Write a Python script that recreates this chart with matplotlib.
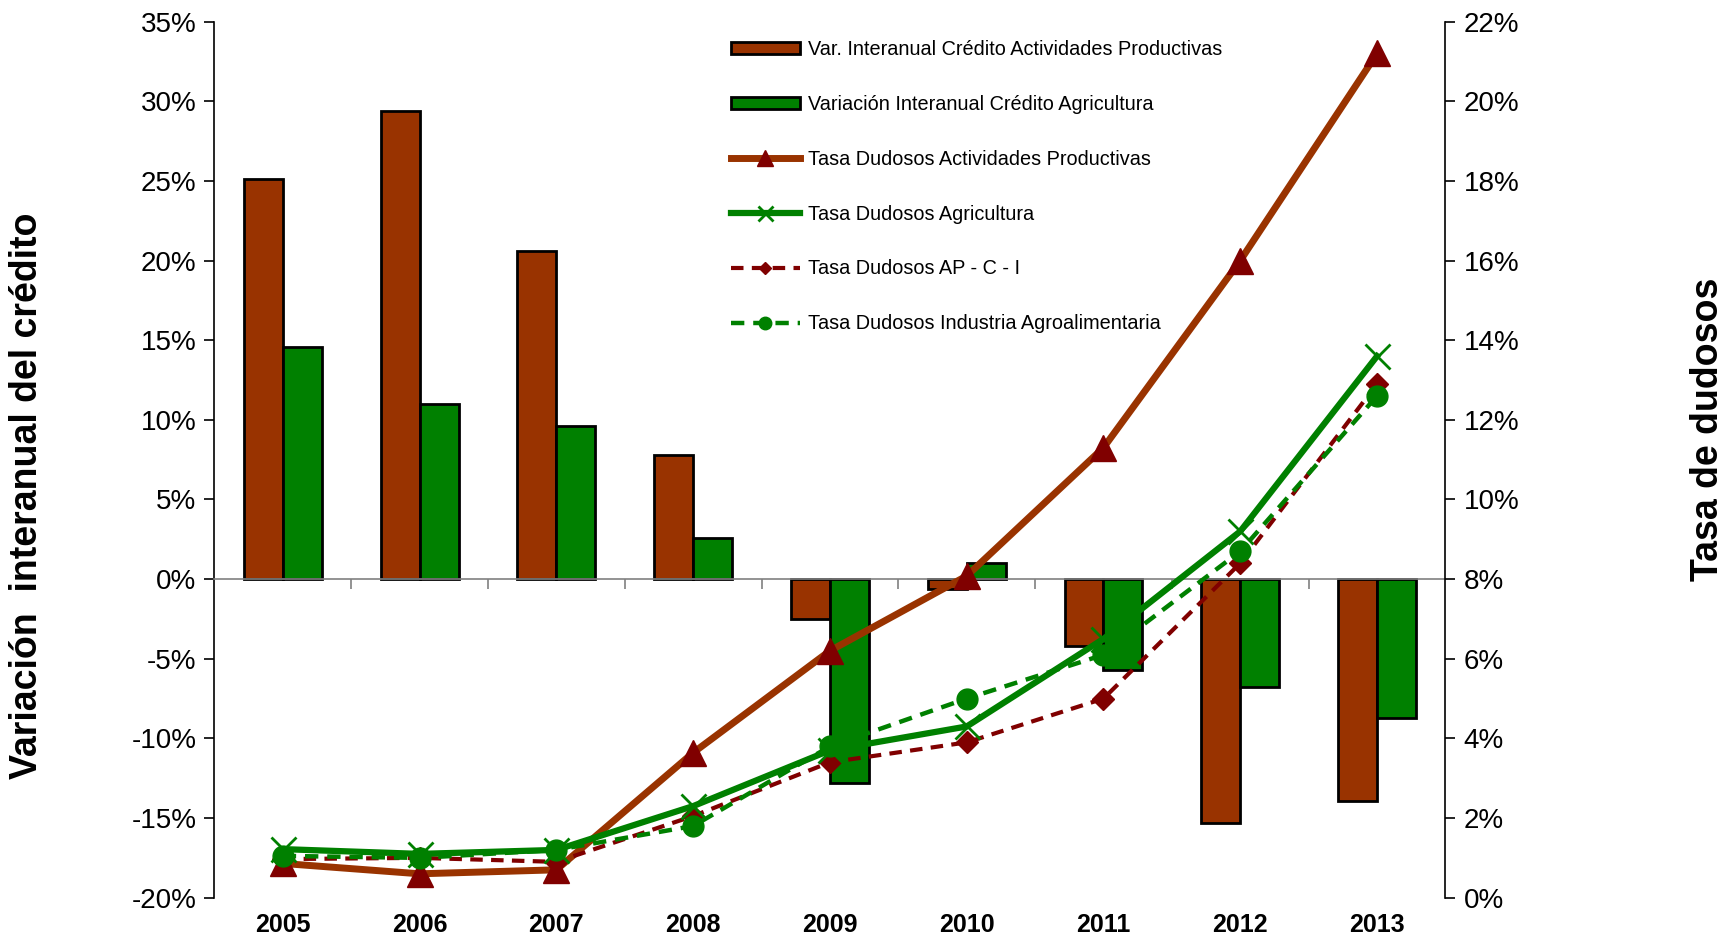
import matplotlib
matplotlib.use("Agg")
import matplotlib.pyplot as plt
import numpy as np
from matplotlib.ticker import FuncFormatter

plt.rcParams['font.family'] = ['Liberation Sans', 'DejaVu Sans']

# data
years = ['2005', '2006', '2007', '2008', '2009', '2010', '2011', '2012', '2013']
var_credito_ap = [25.1, 29.4, 20.6, 7.8, -2.5, -0.6, -4.2, -15.3, -13.9]
var_credito_agri = [14.6, 11.0, 9.6, 2.6, -12.8, 1.0, -5.7, -6.8, -8.7]
tasa_ap = [0.86, 0.6, 0.7, 3.64, 6.2, 8.08, 11.3, 16.0, 21.2]
tasa_agri = [1.22, 1.1, 1.2, 2.3, 3.7, 4.3, 6.5, 9.2, 13.6]
tasa_apci = [0.97, 1.0, 0.9, 2.05, 3.4, 3.9, 5.0, 8.4, 12.9]
tasa_agroind = [1.05, 1.0, 1.2, 1.8, 3.8, 5.0, 6.1, 8.7, 12.6]

BROWN = '#993300'
GREEN = '#008000'
DARKRED = '#800000'

fig = plt.figure(figsize=(17.29, 9.40), dpi=100)
ax = fig.add_axes([0.124, 0.045, 0.712, 0.932])
x = np.arange(len(years))
w = 0.285

b1 = ax.bar(x - w / 2, var_credito_ap, w, color=BROWN, edgecolor='black', linewidth=2,
            label='Var. Interanual Crédito Actividades Productivas', zorder=2)
b2 = ax.bar(x + w / 2, var_credito_agri, w, color=GREEN, edgecolor='black', linewidth=2,
            label='Variación Interanual Crédito Agricultura', zorder=2)

ax.set_xlim(-0.5, len(years) - 0.5)
ax.set_ylim(-20, 35)
ax.set_yticks(np.arange(-20, 36, 5))
ax.yaxis.set_major_formatter(FuncFormatter(lambda v, p: f'{v:.0f}%'))
ax.tick_params(axis='y', labelsize=20, length=7, width=1.2, direction='out', pad=6)

# category axis crosses at zero
ax.spines['top'].set_visible(False)
ax.spines['right'].set_visible(False)
ax.spines['bottom'].set_position(('data', 0))
ax.spines['bottom'].set_color('#808080')
ax.spines['bottom'].set_linewidth(1.2)
ax.spines['left'].set_linewidth(1.2)
ax.set_xticks(np.arange(0.5, len(years) - 0.5, 1))
ax.set_xticklabels([])
ax.tick_params(axis='x', length=7, width=1.2, color='#808080', direction='out')
for i, yr in enumerate(years):
    ax.text(i, -0.018, yr, transform=ax.get_xaxis_transform(), ha='center', va='top',
            fontsize=18, fontweight='bold')

ax.set_ylabel('Variación  interanual del crédito', fontsize=27, fontweight='bold')
ax.yaxis.set_label_coords(-0.138, 0.459)

ax2 = ax.twinx()
ax2.set_ylim(0, 22)
ax2.set_yticks(np.arange(0, 23, 2))
ax2.yaxis.set_major_formatter(FuncFormatter(lambda v, p: f'{v:.0f}%'))
ax2.tick_params(axis='y', labelsize=20, length=7, width=1.2, direction='out', pad=6)
for s in ['top', 'left', 'bottom']:
    ax2.spines[s].set_visible(False)
ax2.spines['right'].set_linewidth(1.2)
ax2.set_ylabel('Tasa de dudosos', fontsize=27, fontweight='bold', rotation=90)
ax2.yaxis.set_label_coords(1.199, 0.535)

l1, = ax2.plot(x, tasa_ap, color=BROWN, lw=5, marker='^', ms=19, mfc=DARKRED, mec=DARKRED,
               label='Tasa Dudosos Actividades Productivas', zorder=3)
l2, = ax2.plot(x, tasa_agri, color=GREEN, lw=4.5, marker='x', ms=18, mew=2, mec=GREEN,
               label='Tasa Dudosos Agricultura', zorder=4)
l3, = ax2.plot(x, tasa_apci, color=DARKRED, lw=3, ls=(0, (3, 2)), marker='D', ms=11,
               mfc=DARKRED, mec=DARKRED, label='Tasa Dudosos AP - C - I', zorder=3)
l4, = ax2.plot(x, tasa_agroind, color=GREEN, lw=3.2, ls=(0, (3, 2)), marker='o', ms=15,
               mfc=GREEN, mec=GREEN, label='Tasa Dudosos Industria Agroalimentaria', zorder=3)

handles = [b1, b2, l1, l2, l3, l4]
fig.legend(handles, [h.get_label() for h in handles], loc='upper left',
           bbox_to_anchor=(0.4225, 0.957), frameon=False, fontsize=14.3,
           handlelength=3.5, handleheight=0.55, handletextpad=0.4,
           labelspacing=1.8, borderpad=0, borderaxespad=0, markerscale=0.6)

plt.savefig('out.png', dpi=100)
